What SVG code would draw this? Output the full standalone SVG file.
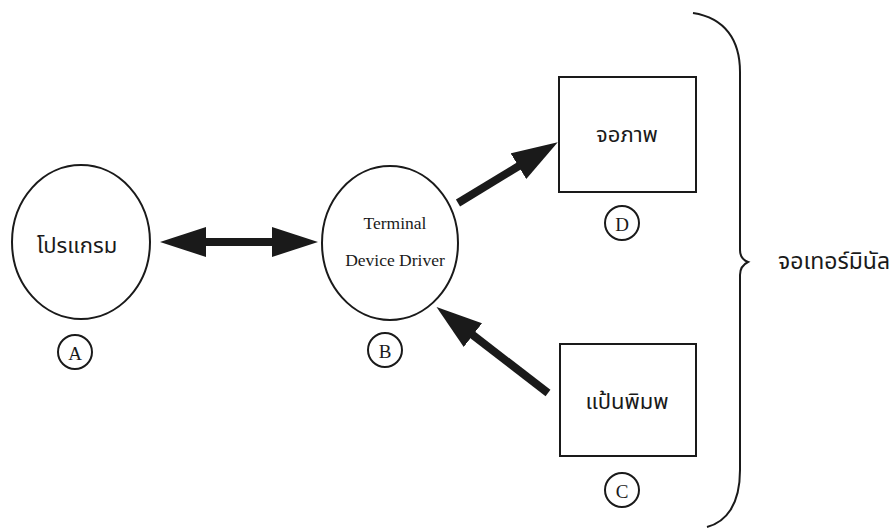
<svg xmlns="http://www.w3.org/2000/svg" width="892" height="529" viewBox="0 0 892 529">
<style>
.shape{fill:none;stroke:#1a1a1a;stroke-width:2}
.thai{font-family:"Noto Sans Thai","Noto Sans","DejaVu Sans",sans-serif;font-size:22px;fill:#1a1a1a;text-anchor:middle;dominant-baseline:central}
.en{font-family:"Liberation Serif",serif;font-size:19px;fill:#1a1a1a;text-anchor:middle;dominant-baseline:central}
.conn{stroke:#1a1a1a;stroke-width:8;fill:none}
</style>
<defs>
<marker id="head" viewBox="0 0 46 30" refX="10" refY="15" markerWidth="46" markerHeight="30" markerUnits="userSpaceOnUse" orient="auto-start-reverse">
<path d="M0,0 L46,15 L0,30 Z" fill="#1a1a1a"/>
</marker>
</defs>
<rect width="892" height="529" fill="#ffffff"/>
<g id="nodeA">
<ellipse class="shape" cx="81" cy="242" rx="69" ry="77"/>
<text class="thai" x="77" y="246">โปรแกรม</text>
<circle class="shape" cx="75" cy="352" r="17"/>
<text class="en" x="75" y="353">A</text>
</g>
<g id="nodeB">
<ellipse class="shape" cx="390" cy="243" rx="68" ry="77"/>
<text class="en" x="395" y="223" style="font-size:17.5px">Terminal</text>
<text class="en" x="395" y="260" style="font-size:17.5px">Device Driver</text>
<circle class="shape" cx="385" cy="350" r="17"/>
<text class="en" x="385" y="351">B</text>
</g>
<g id="nodeD">
<rect class="shape" x="559" y="77" width="137" height="115"/>
<text class="thai" x="627" y="135">จอภาพ</text>
<circle class="shape" cx="622" cy="223" r="17"/>
<text class="en" x="622" y="224">D</text>
</g>
<g id="nodeC">
<rect class="shape" x="560" y="344" width="136" height="112"/>
<text class="thai" x="627" y="402">แป้นพิมพ</text>
<circle class="shape" cx="622" cy="490" r="17"/>
<text class="en" x="622" y="491">C</text>
</g>
<g id="terminal">
<path class="shape" d="M693,13 C725,18 740,40 740,72 L740,250 Q740,259 748,262 Q740,266 740,275 L740,470 C740,505 726,522 707,527"/>
<text class="thai" x="778" y="262" style="text-anchor:start;font-size:23px">จอเทอร์มินัล</text>
</g>
<g id="connectors">
<line class="conn" x1="196" y1="242" x2="282" y2="242" marker-start="url(#head)" marker-end="url(#head)"/>
<line class="conn" x1="458" y1="203" x2="527" y2="161" marker-end="url(#head)"/>
<line class="conn" x1="548" y1="393" x2="465" y2="329" marker-end="url(#head)"/>
</g>
</svg>
